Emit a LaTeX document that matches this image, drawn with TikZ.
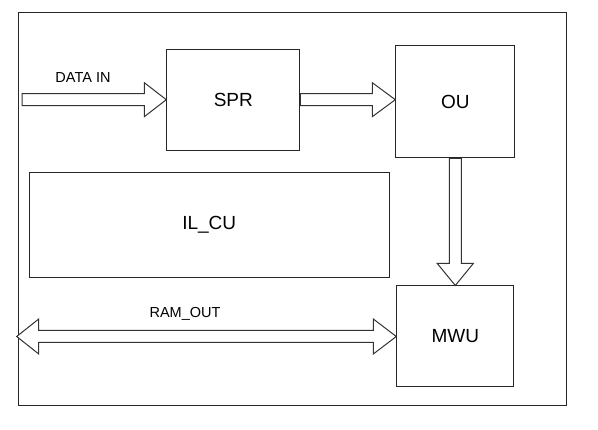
\documentclass[tikz,border=0pt]{standalone}
\usepackage{fontspec}
\setmainfont{Liberation Sans}
\usetikzlibrary{calc}

\begin{document}
\begin{tikzpicture}[x=1pt, y=-1pt]
    \tikzset{
        block/.style={draw=black!85, line width=1pt, inner sep=0pt, font=\fontsize{19}{22}\selectfont},
        hollow/.style={draw=black!80, line width=1pt, fill=white, line join=miter},
        lbl/.style={font=\fontsize{14.5}{17}\selectfont, inner sep=0pt}
    }
    \useasboundingbox (0,0) rectangle (598,430);

    \draw[line width=1pt, draw=black!85] (18,13) rectangle (566,406);

    \node[block, minimum width=133pt, minimum height=101pt] (spr) at (233.3,99.7) {SPR};
    \node[block, minimum width=119pt, minimum height=112pt] (ou) at (455.3,102) {OU};
    \node[block, minimum width=360pt, minimum height=105pt] (ilcu) at (209.2,224.8) {IL\_CU};
    \node[block, minimum width=117pt, minimum height=101pt] (mwu) at (455.3,336.5) {MWU};

    \coordinate (din) at (22,99.7);
    \coordinate (rout) at (16.7,336.5);

    % data in -> SPR
    \draw[hollow] ($(din)+(0,-6)$) -- ($(spr.west)+(-22,-6)$) -- ($(spr.west)+(-22,-17)$) -- (spr.west)
        -- ($(spr.west)+(-22,17)$) -- ($(spr.west)+(-22,6)$) -- ($(din)+(0,6)$) -- cycle;
    % SPR -> OU
    \draw[hollow] ($(spr.east)+(0,-6)$) -- ($(spr.east -| ou.west)+(-23,-6)$) -- ($(spr.east -| ou.west)+(-23,-17)$) -- (spr.east -| ou.west)
        -- ($(spr.east -| ou.west)+(-23,17)$) -- ($(spr.east -| ou.west)+(-23,6)$) -- ($(spr.east)+(0,6)$) -- cycle;
    % OU -> MWU
    \draw[hollow] ($(ou.south)+(-6,0)$) -- ($(mwu.north)+(-6,-22)$) -- ($(mwu.north)+(-18,-22)$) -- (mwu.north)
        -- ($(mwu.north)+(18,-22)$) -- ($(mwu.north)+(6,-22)$) -- ($(ou.south)+(6,0)$) -- cycle;
    % RAM out <-> MWU
    \draw[hollow] (rout) -- ($(rout)+(22,-17.5)$) -- ($(rout)+(22,-6)$) -- ($(mwu.west)+(-23,-6)$) -- ($(mwu.west)+(-23,-17.5)$) -- (mwu.west)
        -- ($(mwu.west)+(-23,17.5)$) -- ($(mwu.west)+(-23,6)$) -- ($(rout)+(22,6)$) -- ($(rout)+(22,17.5)$) -- cycle;

    \node[lbl] (datain) at (83,78) {DATA IN};
    \node[lbl] (ramout) at (185,314) {RAM\_OUT};
\end{tikzpicture}
\end{document}
